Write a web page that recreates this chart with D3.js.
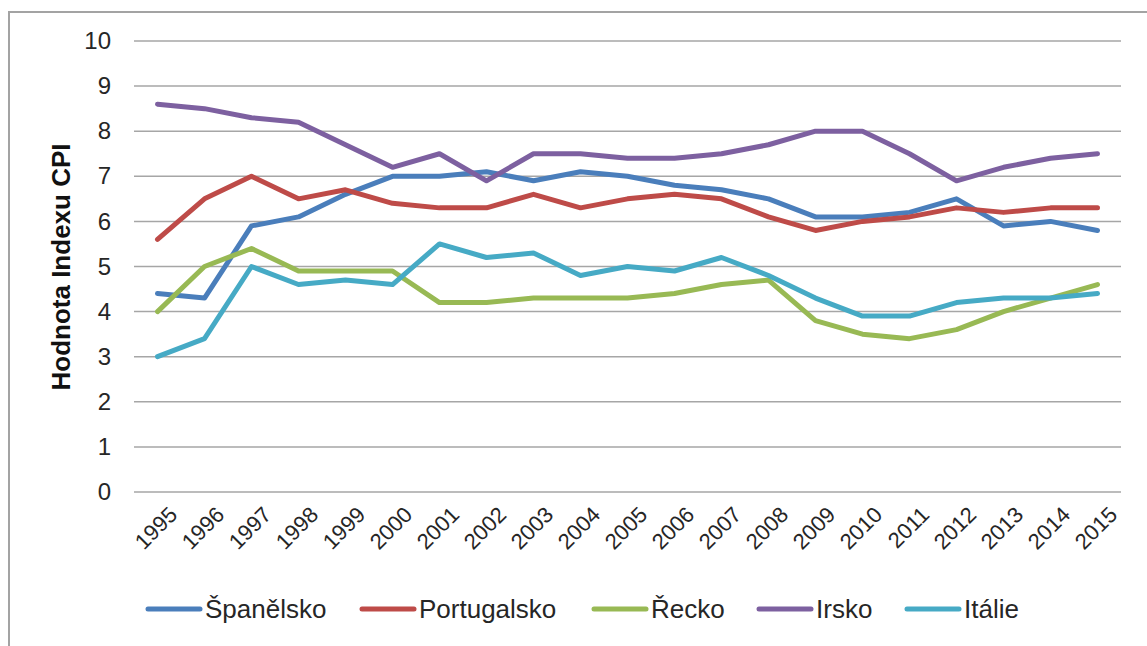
<!DOCTYPE html>
<html>
<head>
<meta charset="utf-8">
<script src="https://d3js.org/d3.v7.min.js"></script>
<style>
    body { margin: 0; background: #fff; }
    svg { display: block; font-family: "Liberation Sans", Arial, sans-serif; }
</style>
</head>
<body>
<svg id="chart" width="1147" height="646"></svg>
<script>
    // roky a hodnoty CPI
    const years = ["1995","1996","1997","1998","1999","2000","2001","2002","2003","2004","2005",
                   "2006","2007","2008","2009","2010","2011","2012","2013","2014","2015"];
    const spanelsko  = [4.4,4.3,5.9,6.1,6.6,7.0,7.0,7.1,6.9,7.1,7.0,6.8,6.7,6.5,6.1,6.1,6.2,6.5,5.9,6.0,5.8];
    const portugalsko = [5.6,6.5,7.0,6.5,6.7,6.4,6.3,6.3,6.6,6.3,6.5,6.6,6.5,6.1,5.8,6.0,6.1,6.3,6.2,6.3,6.3];
    const recko      = [4.0,5.0,5.4,4.9,4.9,4.9,4.2,4.2,4.3,4.3,4.3,4.4,4.6,4.7,3.8,3.5,3.4,3.6,4.0,4.3,4.6];
    const irsko      = [8.6,8.5,8.3,8.2,7.7,7.2,7.5,6.9,7.5,7.5,7.4,7.4,7.5,7.7,8.0,8.0,7.5,6.9,7.2,7.4,7.5];
    const italie     = [3.0,3.4,5.0,4.6,4.7,4.6,5.5,5.2,5.3,4.8,5.0,4.9,5.2,4.8,4.3,3.9,3.9,4.2,4.3,4.3,4.4];
    const seriesNames = ["Španělsko","Portugalsko","Řecko","Irsko","Itálie"];
    const yTicks = [0,1,2,3,4,5,6,7,8,9,10];

    const series = [spanelsko, portugalsko, recko, irsko, italie];
    const colors = ["#4a7ebb","#be4b48","#98b954","#7d60a0","#46aac5"];

    const svg = d3.select("#chart");

    // ramecek grafu
    svg.append("rect")
       .attr("x", 9).attr("y", 12)
       .attr("width", 1160).attr("height", 660)
       .attr("fill", "none")
       .attr("stroke", "#a3a3a3")
       .attr("stroke-width", 2);

    const plotLeft = 134, plotRight = 1121, plotTop = 41, plotBottom = 492;

    const x = d3.scaleBand().domain(years).range([plotLeft, plotRight]);
    const y = d3.scaleLinear().domain([0, 10]).range([plotBottom, plotTop]);

    // mrizka
    svg.append("g")
       .selectAll("line")
       .data(yTicks)
       .join("line")
       .attr("x1", plotLeft).attr("x2", plotRight)
       .attr("y1", d => y(d)).attr("y2", d => y(d))
       .attr("stroke", "#a6a6a6")
       .attr("stroke-width", 1.5);

    // osa y
    const yAxis = svg.append("g")
       .attr("transform", `translate(${plotLeft},0)`)
       .attr("font-size", 24)
       .attr("font-family", "Liberation Sans, Arial, sans-serif")
       .call(d3.axisLeft(y).tickValues(yTicks).tickSize(0).tickPadding(23));
    yAxis.select(".domain").remove();
    yAxis.selectAll("text")
       .attr("font-size", 24)
       .attr("fill", "#262626");

    // osa x - popisky natocene
    svg.append("g")
       .selectAll("text")
       .data(years)
       .join("text")
       .attr("transform", d => `translate(${x(d) + x.bandwidth() / 2 + 10},${plotBottom + 13}) rotate(-45)`)
       .attr("text-anchor", "end")
       .attr("dy", "0.71em")
       .attr("font-size", 22)
       .attr("fill", "#262626")
       .text(d => d);

    // nazev osy y
    svg.append("text")
       .attr("transform", `translate(70,267) rotate(-90)`)
       .attr("text-anchor", "middle")
       .attr("font-size", 26)
       .attr("font-weight", "bold")
       .attr("fill", "#111")
       .text("Hodnota Indexu CPI");

    // cary
    const line = d3.line()
       .x((d, i) => x(years[i]) + x.bandwidth() / 2)
       .y(d => y(d));

    svg.append("g")
       .selectAll("path")
       .data(series)
       .join("path")
       .attr("d", d => line(d))
       .attr("fill", "none")
       .attr("stroke", (d, i) => colors[i])
       .attr("stroke-width", 5)
       .attr("stroke-linejoin", "round")
       .attr("stroke-linecap", "round");

    // legenda
    const legendX = [148, 362, 594, 759, 907];
    const legend = svg.append("g")
       .selectAll("g")
       .data(seriesNames)
       .join("g")
       .attr("transform", (d, i) => `translate(${legendX[i]},609)`);
    legend.append("line")
       .attr("x1", 0).attr("x2", 52)
       .attr("stroke", (d, i) => colors[i])
       .attr("stroke-width", 5)
       .attr("stroke-linecap", "round");
    legend.append("text")
       .attr("x", 57)
       .attr("dy", "0.36em")
       .attr("font-size", 26)
       .attr("fill", "#262626")
       .text(d => d);
</script>
</body>
</html>
